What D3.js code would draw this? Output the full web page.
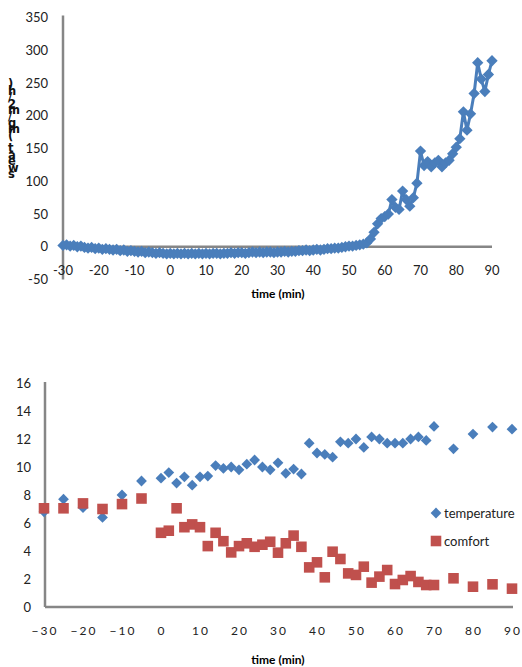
<!DOCTYPE html>
<html>
<head>
<meta charset="utf-8">
<script src="https://cdn.jsdelivr.net/npm/d3@7"></script>
<style>
  html, body { margin: 0; padding: 0; background: #fff; }
  svg { display: block; }
</style>
</head>
<body>
<svg id="chart" width="522" height="667"></svg>
<script>
// ---- Upper panel: sweat rate, one reading per minute ----
const sweatTime = [
  -30,-29,-28,-27,-26,-25,-24,-23,-22,-21,-20,-19,-18,-17,-16,-15,-14,-13,-12,-11,
  -10,-9,-8,-7,-6,-5,-4,-3,-2,-1,0,1,2,3,4,5,6,7,8,9,
  10,11,12,13,14,15,16,17,18,19,20,21,22,23,24,25,26,27,28,29,
  30,31,32,33,34,35,36,37,38,39,40,41,42,43,44,45,46,47,48,49,
  50,51,52,53,54,55,56,57,58,59,60,61,62,63,64,65,66,67,68,69,
  70,71,72,73,74,75,76,77,78,79,80,81,82,83,84,85,86,87,88,89,90
];
const sweatRate = [
  2,3,1,2,0,1,-1,-2,-1,-3,-2,-4,-3,-4,-5,-4,-6,-5,-7,-6,
  -7,-8,-7,-9,-8,-9,-10,-9,-10,-11,-10,-11,-10,-11,-10,-11,-10,-11,-10,-11,
  -10,-11,-10,-10,-11,-10,-10,-9,-10,-9,-9,-10,-9,-8,-9,-8,-9,-8,-8,-9,
  -8,-8,-7,-8,-7,-7,-6,-6,-5,-6,-5,-4,-5,-4,-3,-3,-2,-2,-1,0,
  1,1,2,3,4,6,12,22,35,43,46,50,72,60,57,85,72,62,75,97,
  146,124,130,122,128,132,122,128,132,142,152,165,206,178,203,234,281,256,237,263,284
];
const sweatYTicks = [-50, 0, 50, 100, 150, 200, 250, 300, 350];
const timeTicks = [-30, -20, -10, 0, 10, 20, 30, 40, 50, 60, 70, 80, 90];
const sweatLabel = "sweat (mg/m2/h)";

// ---- Lower panel: ratings ----
const ratingTime = [
  -30,-25,-20,-15,-10,-5,0,2,4,6,8,10,12,14,16,18,20,22,24,26,28,30,32,34,36,
  38,40,42,44,46,48,50,52,54,56,58,60,62,64,66,68,70,75,80,85,90
];
const temperature = [
  6.8,7.7,7.1,6.4,8.0,9.0,9.2,9.6,8.85,9.3,8.7,9.3,9.35,10.1,9.9,10.0,9.8,10.2,10.5,10.0,9.8,10.3,9.55,9.85,9.5,
  11.7,11.0,10.9,10.7,11.8,11.7,12.0,11.4,12.15,12.0,11.7,11.7,11.7,12.0,12.15,11.9,12.9,11.3,12.35,12.85,12.7
];
const comfort = [
  7.05,7.05,7.4,7.0,7.35,7.75,5.3,5.45,7.05,5.7,5.9,5.7,4.35,5.3,4.7,3.9,4.35,4.55,4.3,4.45,4.66,3.88,4.55,5.1,4.3,
  2.83,3.19,2.12,3.95,3.43,2.4,2.29,2.88,1.74,2.17,2.64,1.64,1.93,2.21,1.79,1.57,1.57,2.05,1.45,1.62,1.31
];
const ratingYTicks = [0, 2, 4, 6, 8, 10, 12, 14, 16];
const seriesNames = ["temperature", "comfort"];

const BLUE = "#4A7EBB";
const RED = "#C0504D";
const AXIS = "#868686";
const FONT = "Lato, 'Liberation Sans', sans-serif";

const svg = d3.select("#chart");

// ================= Upper panel =================
const x1 = d3.scaleLinear().domain([-30, 90]).range([63, 492]);
const y1 = d3.scaleLinear().domain([-50, 350]).range([279.5, 17.5]);
const upper = svg.append("g");

// y-axis (line + labels)
upper.append("line")
  .attr("x1", x1(-30)).attr("x2", x1(-30))
  .attr("y1", y1(350) - 2).attr("y2", y1(-50))
  .attr("stroke", AXIS).attr("stroke-width", 2.5);
upper.selectAll(".y1lab").data(sweatYTicks).enter().append("text")
  .attr("x", 48).attr("y", d => y1(d) + 4.5)
  .attr("text-anchor", "end")
  .attr("font-family", FONT).attr("font-size", 13).attr("fill", "#222")
  .text(d => d);

// x-axis at zero
upper.append("line")
  .attr("x1", x1(-30)).attr("x2", x1(90))
  .attr("y1", y1(0)).attr("y2", y1(0))
  .attr("stroke", AXIS).attr("stroke-width", 2.5);
upper.selectAll(".x1lab").data(timeTicks).enter().append("text")
  .attr("x", d => x1(d)).attr("y", 275)
  .attr("text-anchor", "middle")
  .attr("font-family", FONT).attr("font-size", 13).attr("fill", "#222")
  .text(d => d);
upper.append("text")
  .attr("x", 278).attr("y", 298)
  .attr("text-anchor", "middle")
  .attr("font-family", FONT).attr("font-size", 12).attr("font-weight", "bold")
  .text("time (min)");

// axis title: upright glyphs stacked upward, one text element with per-glyph positions
const glyphs = Array.from(sweatLabel);
upper.append("text")
  .attr("x", glyphs.map(() => 8).join(" "))
  .attr("y", glyphs.map((c, i) => (178 - i * 6.4).toFixed(1)).join(" "))
  .attr("font-family", "'DejaVu Sans', sans-serif").attr("font-size", 11.5).attr("font-weight", "bold")
  .attr("fill", "#111")
  .text(sweatLabel);

// series line with diamond markers
const sweatPts = sweatTime.map((t, i) => [t, sweatRate[i]]);
upper.append("path")
  .datum(sweatPts)
  .attr("fill", "none").attr("stroke", BLUE).attr("stroke-width", 3)
  .attr("stroke-linejoin", "round")
  .attr("d", d3.line().x(d => x1(d[0])).y(d => y1(d[1])));
const diamond = d3.symbol().type(d3.symbolSquare).size(64);
upper.selectAll(".m1").data(sweatPts).enter().append("path")
  .attr("d", diamond)
  .attr("transform", d => `translate(${x1(d[0])},${y1(d[1])}) rotate(45)`)
  .attr("fill", BLUE);

// ================= Lower panel =================
const x2 = d3.scaleLinear().domain([-30, 90]).range([44, 512]);
const y2 = d3.scaleLinear().domain([0, 16]).range([607, 383]);
const lower = svg.append("g");

lower.append("line")
  .attr("x1", 45).attr("x2", 45)
  .attr("y1", y2(16) - 1).attr("y2", y2(0))
  .attr("stroke", AXIS).attr("stroke-width", 2.5);
lower.append("line")
  .attr("x1", 45).attr("x2", x2(90) + 1)
  .attr("y1", y2(0)).attr("y2", y2(0))
  .attr("stroke", AXIS).attr("stroke-width", 2.5);

lower.selectAll(".y2lab").data(ratingYTicks).enter().append("text")
  .attr("x", 31).attr("y", d => y2(d) + 5)
  .attr("text-anchor", "end")
  .attr("font-family", FONT).attr("font-size", 13).attr("fill", "#222")
  .text(d => d);
lower.selectAll(".x2lab").data(timeTicks).enter().append("text")
  .attr("x", d => x2(d) + 1).attr("y", 635)
  .attr("text-anchor", "middle")
  .attr("font-family", FONT).attr("font-size", 12).attr("letter-spacing", "2px")
  .attr("fill", "#222")
  .text(d => (d < 0 ? "\u2212" + Math.abs(d) : d));
lower.append("text")
  .attr("x", 278).attr("y", 664)
  .attr("text-anchor", "middle")
  .attr("font-family", FONT).attr("font-size", 12).attr("font-weight", "bold")
  .text("time (min)");

const diamond2 = d3.symbol().type(d3.symbolSquare).size(58);
const square2 = d3.symbol().type(d3.symbolSquare).size(112);

lower.selectAll(".temp").data(ratingTime.map((t, i) => [t, temperature[i]])).enter().append("path")
  .attr("d", diamond2)
  .attr("transform", d => `translate(${x2(d[0])},${y2(d[1])}) rotate(45)`)
  .attr("fill", BLUE);
lower.selectAll(".comf").data(ratingTime.map((t, i) => [t, comfort[i]])).enter().append("path")
  .attr("d", square2)
  .attr("transform", d => `translate(${x2(d[0])},${y2(d[1])})`)
  .attr("fill", RED);

// legend
const leg = lower.append("g");
leg.append("path").attr("d", diamond2)
  .attr("transform", "translate(436,513) rotate(45)").attr("fill", BLUE);
leg.append("path").attr("d", square2)
  .attr("transform", "translate(436,541)").attr("fill", RED);
leg.selectAll("text").data(seriesNames).enter().append("text")
  .attr("x", 444).attr("y", (d, i) => 518 + i * 28)
  .attr("font-family", FONT).attr("font-size", 13).attr("fill", "#222")
  .text(d => d);
</script>
</body>
</html>
